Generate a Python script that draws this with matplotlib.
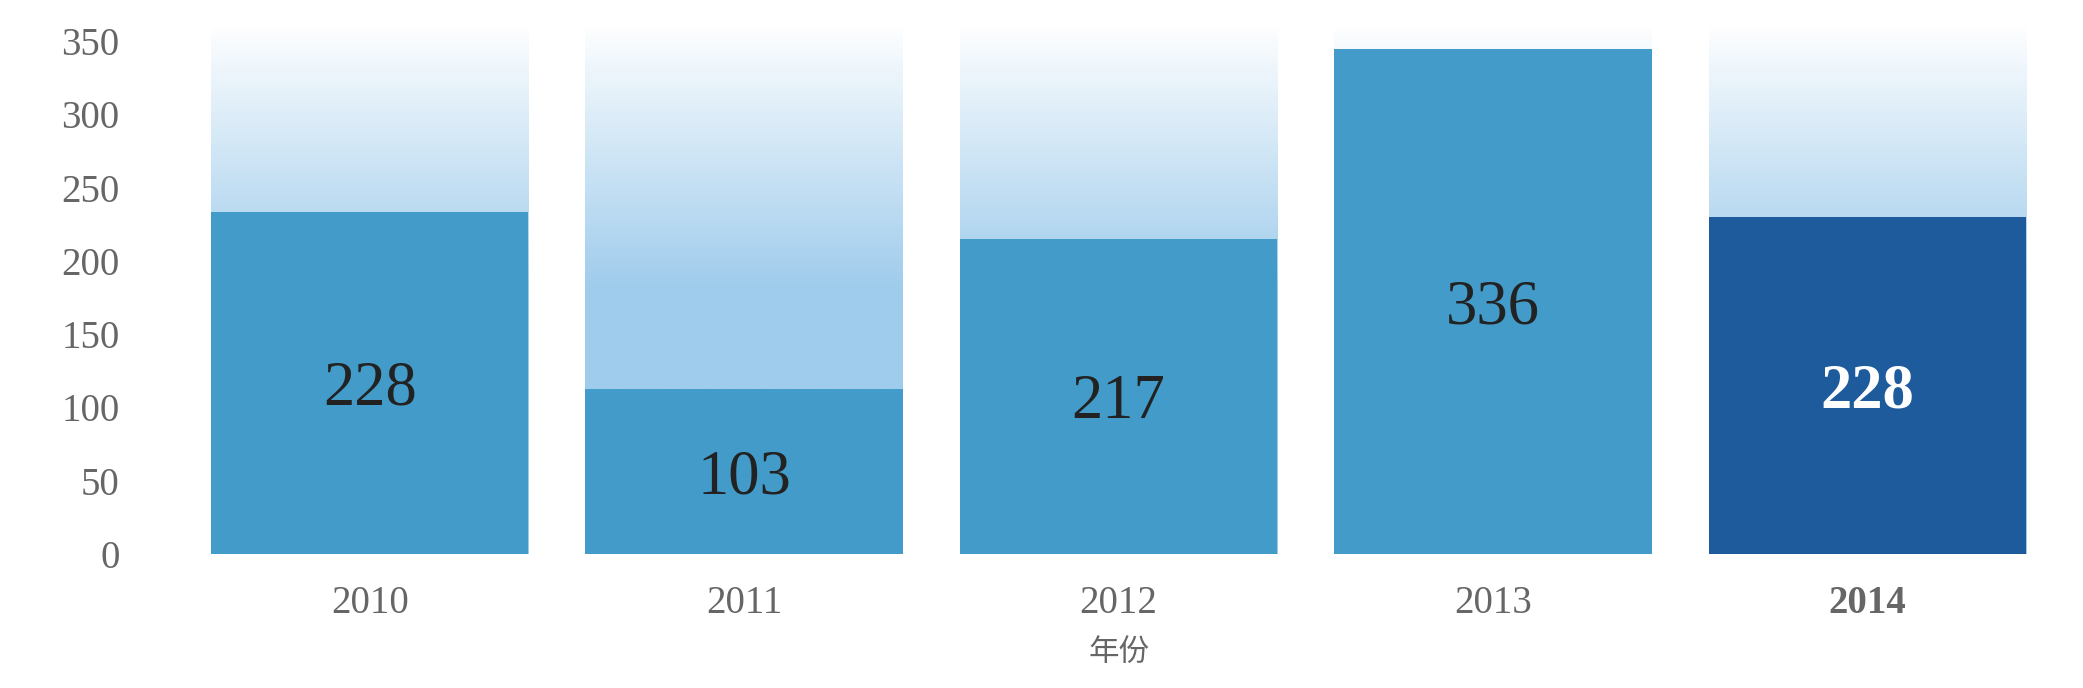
import numpy as np
import matplotlib
matplotlib.use("Agg")
import matplotlib.pyplot as plt
from matplotlib.colors import LinearSegmentedColormap
from matplotlib import transforms

# ---- data ----
years = ["2010", "2011", "2012", "2013", "2014"]
bar_heights = [233.5, 112.4, 214.9, 344.5, 229.7]   # heights as drawn in the picture
value_labels = [228, 103, 217, 336, 228]             # numbers printed on the bars
y_ticks = [0, 50, 100, 150, 200, 250, 300, 350]
x_title = "年份"

# ---- style ----
bar_color = "#439BC9"
highlight_color = "#1E5B9C"
highlight_index = 4
bg_top = 358
fade_start = 181
bar_w = 0.848

plt.rcParams['font.family'] = ['Liberation Serif', 'DejaVu Serif']

fig = plt.figure(figsize=(20.83, 6.88), dpi=100)
ax = fig.add_axes([0.06606, 0.1948, 0.9077, 0.767])

x = np.arange(len(years))

# gradient backgrounds
cmap = LinearSegmentedColormap.from_list("fade", ["#9FCCEC", "#FFFFFF"])
yy = np.linspace(0, bg_top, 400)
frac = np.clip((yy - fade_start) / (bg_top - fade_start), 0, 1)
grad = frac[:, None]
for xi in x:
    ax.imshow(grad, extent=[xi - bar_w / 2, xi + bar_w / 2, 0, bg_top],
              origin="lower", cmap=cmap, vmin=0, vmax=1.03, aspect="auto",
              interpolation="bilinear", zorder=1)

colors = [highlight_color if i == highlight_index else bar_color for i in range(len(years))]
ax.bar(x, bar_heights, width=bar_w, color=colors, zorder=2, linewidth=0)

for i, (h, v) in enumerate(zip(bar_heights, value_labels)):
    if i == highlight_index:
        ax.text(i, h / 2, str(v), ha="center", va="center_baseline", fontsize=45,
                color="white", fontweight="bold", zorder=3)
    else:
        ax.text(i, h / 2, str(v), ha="center", va="center_baseline", fontsize=45,
                color="#222222", zorder=3)

ax.set_xlim(-0.62, 4.43)
ax.set_ylim(0, 360)
ax.set_yticks(y_ticks)
ax.set_yticklabels([str(t) for t in y_ticks])
ax.set_xticks(x)
ax.set_xticklabels(years)
ax.tick_params(axis="y", length=0, pad=13, labelsize=28, labelcolor="#666666")
ax.tick_params(axis="x", length=0, pad=22, labelsize=28, labelcolor="#666666")
for i, lab in enumerate(ax.get_xticklabels()):
    if i == highlight_index:
        lab.set_fontweight("bold")

for s in ax.spines.values():
    s.set_visible(False)

trans = transforms.blended_transform_factory(ax.transData, ax.transAxes)
ax.text(2, -0.1857, x_title, transform=trans, ha="center", va="center",
        fontsize=22, color="#666666", family=["Noto Sans CJK SC", "DejaVu Sans"])

fig.savefig("out.png", dpi=100)
